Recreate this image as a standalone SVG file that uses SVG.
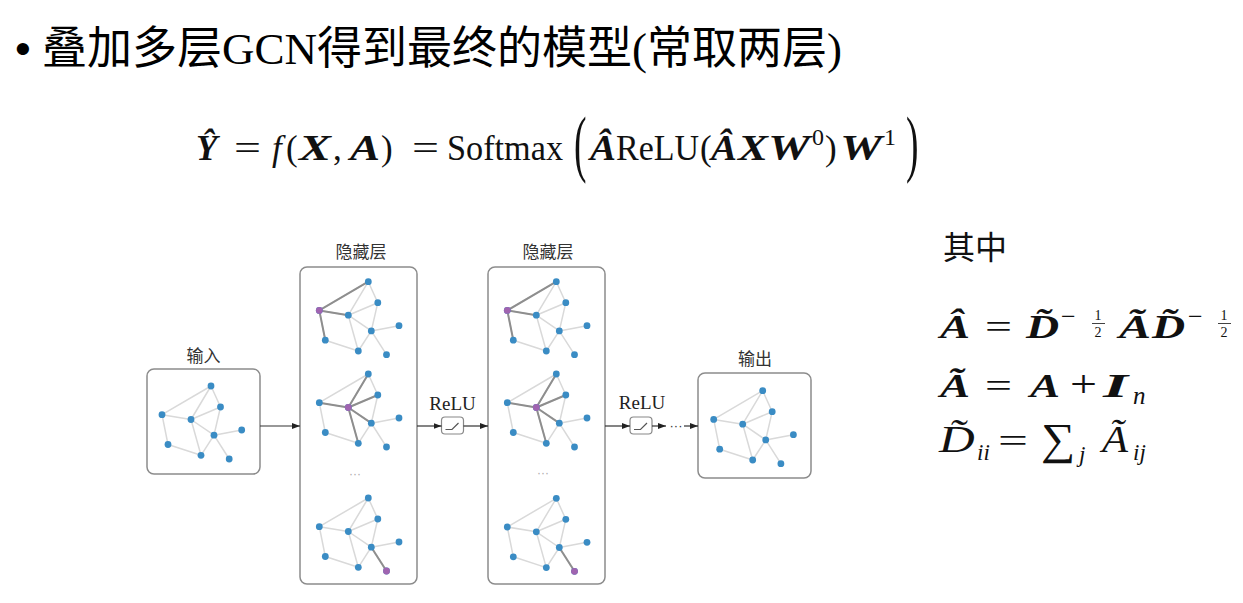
<svg xmlns="http://www.w3.org/2000/svg" xmlns:xlink="http://www.w3.org/1999/xlink" width="1243" height="603" viewBox="0 0 1243 603">
<style>
.cjk{font-family:"Noto Sans CJK SC",sans-serif}
.ser{font-family:"Liberation Serif","Noto Sans CJK SC",serif}
.bi{font-family:"Liberation Serif",serif;font-weight:bold;font-style:italic}
.it{font-family:"Liberation Serif",serif;font-style:italic}
.rm{font-family:"Liberation Serif",serif}
.box{fill:#fff;stroke:#8c8c8c;stroke-width:1.5}
.lbl{font-family:"Noto Sans CJK SC",sans-serif;font-size:17px;fill:#333;text-anchor:middle}
.le{fill:none;stroke:#d9d9d9;stroke-width:1.5}
.de{fill:none;stroke:#8e8e8e;stroke-width:2}
.bn{fill:#3a8cc4}
.pn{fill:#a064b0}
.conn{fill:none;stroke:#333;stroke-width:1.2}
.relu{fill:#fff;stroke:#888;stroke-width:1.2}
.ico{fill:none;stroke:#555;stroke-width:1.2}
.ell{font-family:"Liberation Sans",sans-serif;font-size:12px;fill:#aaa;text-anchor:middle}
</style>
<defs>
<marker id="arr" markerWidth="8" markerHeight="6" refX="8" refY="3" orient="auto" markerUnits="userSpaceOnUse"><path d="M0,0 L8,3 L0,6 z" fill="#222"/></marker>
<path id="edges" class="le" d="M0 0L-49 28.7M0 0L-20 33.5M0 0L9.5 21M-20 33.5L9.5 21M-49 28.7L-20 33.5M-49 28.7L-43 58.5M-43 58.5L-10 69.3M-20 33.5L-10 69.3M-20 33.5L3 49.2M-10 69.3L3 49.2M9.5 21L3 49.2M3 49.2L30.7 44M3 49.2L18.2 73"/>
<g id="nodes" class="bn">
<circle cx="0" cy="0" r="3.4"/><circle cx="9.5" cy="21" r="3.4"/><circle cx="-49" cy="28.7" r="3.4"/><circle cx="-20" cy="33.5" r="3.4"/><circle cx="3" cy="49.2" r="3.4"/><circle cx="30.7" cy="44" r="3.4"/><circle cx="-43" cy="58.5" r="3.4"/><circle cx="-10" cy="69.3" r="3.4"/><circle cx="18.2" cy="73" r="3.4"/>
</g>
<g id="g1"><use xlink:href="#edges"/><path class="de" d="M-49 28.7L0 0M-49 28.7L-20 33.5M-49 28.7L-43 58.5"/><use xlink:href="#nodes"/><circle class="pn" cx="-49" cy="28.7" r="3.4"/></g>
<g id="g2"><use xlink:href="#edges"/><path class="de" d="M-20 33.5L0 0M-20 33.5L9.5 21M-20 33.5L-49 28.7M-20 33.5L3 49.2M-20 33.5L-10 69.3"/><use xlink:href="#nodes"/><circle class="pn" cx="-20" cy="33.5" r="3.4"/></g>
<g id="g3"><use xlink:href="#edges"/><path class="de" d="M3 49.2L18.2 73"/><use xlink:href="#nodes"/><circle class="pn" cx="18.2" cy="73" r="3.4"/></g>
<g id="g0"><use xlink:href="#edges"/><use xlink:href="#nodes"/></g>
</defs>
<rect width="1243" height="603" fill="#fff"/>

<g id="title">
<text x="15" y="64" font-family="Liberation Sans,sans-serif" font-size="45">•</text>
<text x="42" y="64" class="ser" font-size="45">叠加多层GCN得到最终的模型(常取两层)</text>
</g>

<g id="formula-main" fill="#111">
<text x="196" y="160" class="bi" font-size="35">Ŷ</text>
<text x="234" y="160" class="rm" font-size="35" textLength="27" lengthAdjust="spacingAndGlyphs">=</text>
<text x="272" y="160" class="it" font-size="35">f</text>
<text x="286" y="160" class="rm" font-size="35">(</text>
<text x="299" y="160" class="bi" font-size="35" textLength="32" lengthAdjust="spacingAndGlyphs">X</text>
<text x="333" y="160" class="rm" font-size="35">,</text>
<text x="350" y="160" class="bi" font-size="35" textLength="30" lengthAdjust="spacingAndGlyphs">A</text>
<text x="381" y="160" class="rm" font-size="35">)</text>
<text x="412" y="160" class="rm" font-size="35" textLength="27" lengthAdjust="spacingAndGlyphs">=</text>
<text x="447" y="160" class="rm" font-size="35" textLength="116" lengthAdjust="spacingAndGlyphs">Softmax</text>
<text transform="translate(574,168) scale(0.5,1)" class="rm" font-size="75">(</text>
<text x="590" y="160" class="bi" font-size="35" textLength="26" lengthAdjust="spacingAndGlyphs">Â</text>
<text x="616" y="160" class="rm" font-size="35" textLength="83" lengthAdjust="spacingAndGlyphs">ReLU</text>
<text x="700" y="160" class="rm" font-size="35">(</text>
<text x="711" y="160" class="bi" font-size="35" textLength="26" lengthAdjust="spacingAndGlyphs">Â</text>
<text x="738" y="160" class="bi" font-size="35" textLength="30" lengthAdjust="spacingAndGlyphs">X</text>
<text x="768" y="160" class="bi" font-size="35" textLength="42" lengthAdjust="spacingAndGlyphs">W</text>
<text x="812" y="145" class="rm" font-size="24">0</text>
<text x="825" y="160" class="rm" font-size="35">)</text>
<text x="840" y="160" class="bi" font-size="35" textLength="42" lengthAdjust="spacingAndGlyphs">W</text>
<text x="884" y="145" class="rm" font-size="24">1</text>
<text transform="translate(906,168) scale(0.5,1)" class="rm" font-size="75">)</text>
</g>

<g id="where" fill="#111">
<text x="943" y="259" class="cjk" font-size="32">其中</text>
<text x="940" y="338" class="bi" font-size="33" textLength="30" lengthAdjust="spacingAndGlyphs">Â</text>
<text x="985" y="338" class="rm" font-size="33" textLength="27" lengthAdjust="spacingAndGlyphs">=</text>
<text transform="translate(1026,338) scale(1.35,1)" class="bi" font-size="34">D̃</text>
<text x="1061" y="325" class="rm" font-size="26">−</text>
<text x="1098" y="320" class="rm" font-size="14" text-anchor="middle">1</text>
<line x1="1092" y1="323.5" x2="1105" y2="323.5" stroke="#111" stroke-width="0.8"/>
<text x="1098" y="337" class="rm" font-size="14" text-anchor="middle">2</text>
<text x="1119" y="338" class="bi" font-size="33" textLength="32" lengthAdjust="spacingAndGlyphs">Ã</text>
<text transform="translate(1152,338) scale(1.35,1)" class="bi" font-size="34">D̃</text>
<text x="1188" y="325" class="rm" font-size="26">−</text>
<text x="1224" y="320" class="rm" font-size="14" text-anchor="middle">1</text>
<line x1="1218" y1="323.5" x2="1231" y2="323.5" stroke="#111" stroke-width="0.8"/>
<text x="1224" y="337" class="rm" font-size="14" text-anchor="middle">2</text>

<text x="940" y="397" class="bi" font-size="33" textLength="30" lengthAdjust="spacingAndGlyphs">Ã</text>
<text x="985" y="397" class="rm" font-size="33" textLength="27" lengthAdjust="spacingAndGlyphs">=</text>
<text x="1030" y="397" class="bi" font-size="33" textLength="30" lengthAdjust="spacingAndGlyphs">A</text>
<text x="1070" y="397" class="rm" font-size="38" textLength="27" lengthAdjust="spacingAndGlyphs">+</text>
<text x="1103" y="397" class="bi" font-size="33" textLength="25" lengthAdjust="spacingAndGlyphs">I</text>
<text x="1133" y="404" class="it" font-size="25">n</text>

<text transform="translate(939,452) scale(1.3,1)" class="it" font-size="38">D̃</text>
<text x="977" y="460" class="it" font-size="23">ii</text>
<text x="998" y="452" class="rm" font-size="33" textLength="30" lengthAdjust="spacingAndGlyphs">=</text>
<text transform="translate(1041,454) scale(1.2,1.1)" class="rm" font-size="40">∑</text>
<text x="1079" y="462" class="it" font-size="23">j</text>
<text transform="translate(1102,452) scale(1.12,1)" class="it" font-size="38">Ã</text>
<text x="1133" y="460" class="it" font-size="23">ij</text>
</g>

<g id="input">
<rect class="box" x="147" y="369" width="113" height="105" rx="7"/>
<text class="lbl" x="203.5" y="362">输入</text>
<use xlink:href="#g0" x="211" y="386"/>
</g>

<g id="hidden1">
<rect class="box" x="300" y="267" width="117" height="317" rx="7"/>
<text class="lbl" x="361" y="258">隐藏层</text>
<use xlink:href="#g1" x="368.3" y="281.7"/>
<use xlink:href="#g2" x="368.3" y="374"/>
<use xlink:href="#g3" x="368.3" y="498"/>
<text class="ell" x="355" y="478">···</text>
</g>

<g id="relu1">
<text x="452.5" y="410" class="rm" font-size="19" text-anchor="middle" fill="#222">ReLU</text>
<rect class="relu" x="441.5" y="417" width="22" height="17" rx="3.5"/>
<path class="ico" d="M445.5 429.5H452L458.5 423"/>
</g>

<g id="hidden2">
<rect class="box" x="488" y="267" width="117" height="317" rx="7"/>
<text class="lbl" x="548" y="258">隐藏层</text>
<use xlink:href="#g1" x="556.3" y="281.7"/>
<use xlink:href="#g2" x="556.3" y="374"/>
<use xlink:href="#g3" x="556.3" y="498.3"/>
<text class="ell" x="543" y="477">···</text>
</g>

<g id="relu2">
<text x="642" y="409" class="rm" font-size="19" text-anchor="middle" fill="#222">ReLU</text>
<rect class="relu" x="630" y="417" width="22" height="17" rx="3.5"/>
<path class="ico" d="M634 429.5H640.5L647 423"/>
</g>

<g id="output">
<rect class="box" x="698" y="373" width="113" height="105" rx="7"/>
<text class="lbl" x="755" y="365">输出</text>
<use xlink:href="#g0" x="762.7" y="390.7"/>
</g>

<g id="connectors">
<path class="conn" d="M260 426H300" marker-end="url(#arr)"/>
<path class="conn" d="M417 426H441.5" marker-end="url(#arr)"/>
<path class="conn" d="M463.5 426H488" marker-end="url(#arr)"/>
<path class="conn" d="M605 426H630" marker-end="url(#arr)"/>
<path class="conn" d="M652 426H666" marker-end="url(#arr)"/>
<path class="conn" d="M684 426H698" marker-end="url(#arr)"/>
<text x="676" y="430" font-family="Liberation Sans,sans-serif" font-size="13" fill="#333" text-anchor="middle">···</text>
</g>
</svg>
